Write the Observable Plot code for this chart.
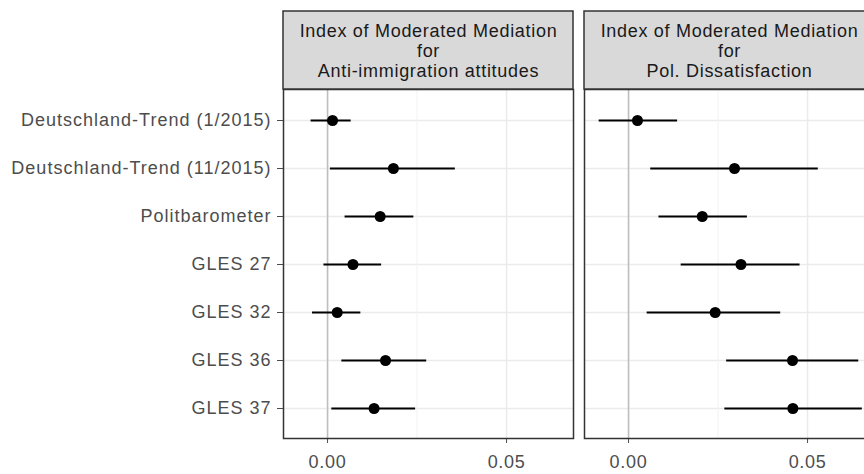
<!DOCTYPE html>
<html>
<head>
<meta charset="utf-8">
<script src="https://cdn.jsdelivr.net/npm/d3@7"></script>
<script src="https://cdn.jsdelivr.net/npm/@observablehq/plot@0.6"></script>
<style>
  html, body { margin: 0; padding: 0; background: #fff; overflow: hidden; }
  #chart svg { max-width: none !important; height: 474px !important; display: block; }
  svg text { letter-spacing: 0.7px; }
  g[aria-label="y-axis tick label"] text { letter-spacing: 1px; }
  g[aria-label="y-axis tick"], g[aria-label="x-axis tick"] { stroke: #333333; }
</style>
</head>
<body>
<div id="chart"></div>
<script>
// Surveys (rows, top to bottom)
const studies = [
  "Deutschland-Trend (1/2015)",
  "Deutschland-Trend (11/2015)",
  "Politbarometer",
  "GLES 27",
  "GLES 32",
  "GLES 36",
  "GLES 37"
];

// Outcomes (one facet panel each)
const outcomes = ["Anti-immigration attitudes", "Pol. Dissatisfaction"];

// Index of moderated mediation with confidence bounds: anti-immigration attitudes
const antiEst  = [0.0014, 0.0184, 0.0147, 0.0071, 0.0027, 0.0162, 0.0130];
const antiLow  = [-0.0046, 0.0008, 0.0049, -0.0010, -0.0042, 0.0040, 0.0012];
const antiHigh = [0.0066, 0.0357, 0.0241, 0.0151, 0.0093, 0.0277, 0.0246];

// Index of moderated mediation with confidence bounds: political dissatisfaction
const dissEst  = [0.0025, 0.0296, 0.0206, 0.0314, 0.0242, 0.0458, 0.0459];
const dissLow  = [-0.0082, 0.0062, 0.0085, 0.0147, 0.0052, 0.0274, 0.0269];
const dissHigh = [0.0137, 0.0530, 0.0332, 0.0479, 0.0425, 0.0643, 0.0653];

// Axis ticks
const xTicks = [0, 0.05];
const xMinor = [0.025];
const xDomain = [-0.0123, 0.0687];

const rows = [
  ...studies.map((s, i) => ({outcome: outcomes[0], study: s, est: antiEst[i], lo: antiLow[i], hi: antiHigh[i]})),
  ...studies.map((s, i) => ({outcome: outcomes[1], study: s, est: dissEst[i], lo: dissLow[i], hi: dissHigh[i]}))
];

const W = 874, H = 474, MT = 89, MB = 36;
const panelH = H - MT - MB;
const stripH = 78;

const chart = Plot.plot({
  width: W,
  height: H,
  marginLeft: 283,
  marginRight: 0,
  marginTop: MT,
  marginBottom: MB,
  style: {fontFamily: "'Liberation Sans', Arial, sans-serif", fontSize: "18px", color: "#4D4D4D", background: "#fff"},
  fx: {domain: outcomes, paddingInner: 0.037, paddingOuter: 0, axis: null, label: null},
  x: {domain: xDomain, ticks: xTicks, tickFormat: d3.format(".2f"), tickSize: 5, tickPadding: 12, label: null},
  y: {type: "point", domain: studies, padding: 0.6, tickSize: 6, tickPadding: 6, label: null},
  marks: [
    // panel grid
    Plot.ruleY(studies, {y: d => d, stroke: "#EBEBEB", strokeWidth: 1.5}),
    Plot.ruleX(xMinor, {x: d => d, stroke: "#F2F2F2", strokeWidth: 1}),
    Plot.ruleX(xTicks, {x: d => d, stroke: "#EBEBEB", strokeWidth: 1.5}),
    // zero reference line
    Plot.ruleX([0], {x: d => d, stroke: "#BEBEBE", strokeWidth: 1.5}),
    // confidence intervals and point estimates
    Plot.ruleY(rows, {fx: "outcome", y: "study", x1: "lo", x2: "hi", stroke: "#000", strokeWidth: 2}),
    Plot.dot(rows, {fx: "outcome", y: "study", x: "est", r: 5.5, fill: "#000", stroke: null}),
    // panel border
    Plot.frame({stroke: "#333333", strokeWidth: 1.5}),
    // facet strips above each panel
    Plot.rect(outcomes, {
      fx: d => d, x1: () => xDomain[0], x2: () => xDomain[1],
      insetBottom: panelH - stripH, dy: -stripH,
      fill: "#D9D9D9", stroke: "#333333", strokeWidth: 1.5
    }),
    Plot.text(outcomes, {
      fx: d => d,
      text: d => "Index of Moderated Mediation\nfor\n" + d,
      frameAnchor: "top", dy: -39, lineAnchor: "middle", lineHeight: 1.1,
      fontSize: 18, fill: "#1A1A1A"
    })
  ]
});

chart.style.maxWidth = "none";
document.getElementById("chart").appendChild(chart);
</script>
</body>
</html>
